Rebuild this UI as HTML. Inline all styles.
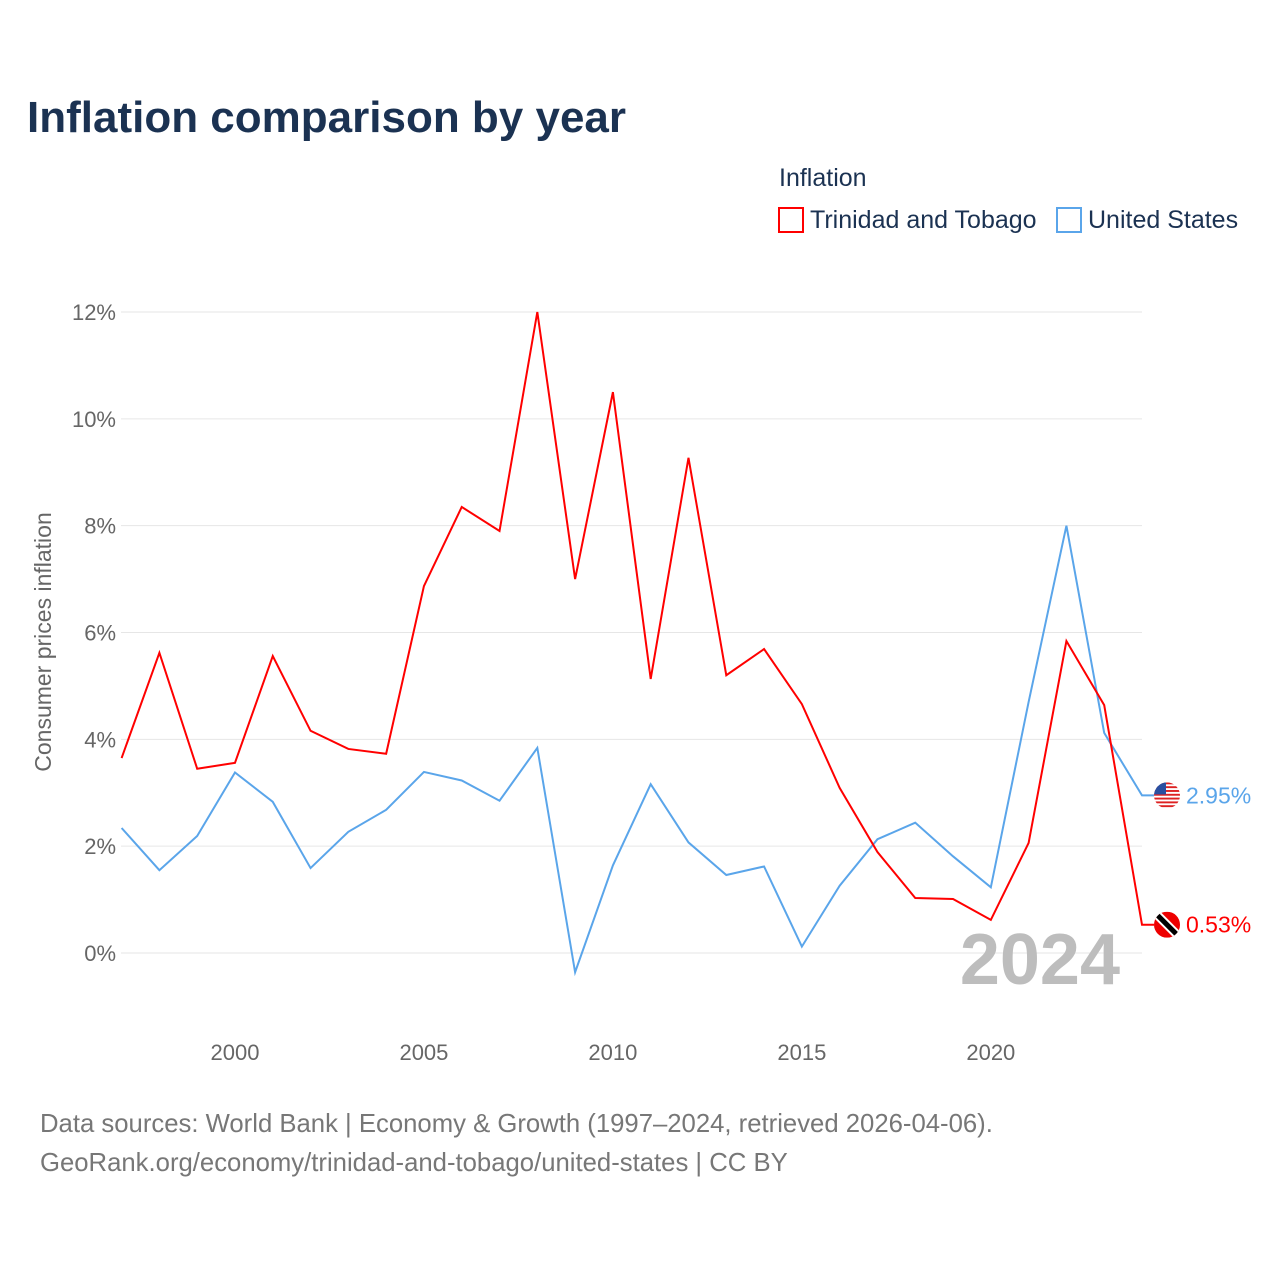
<!DOCTYPE html>
<html><head><meta charset="utf-8"><style>
body{margin:0;background:#fff;font-family:"Liberation Sans",sans-serif}
svg text{font-family:"Liberation Sans",sans-serif}
</style></head><body>
<svg id="chart" width="1280" height="1280" viewBox="0 0 1280 1280" xmlns="http://www.w3.org/2000/svg">
<defs><clipPath id="usclip"><circle cx="1167" cy="795" r="13"/></clipPath><clipPath id="ttclip"><circle cx="1167" cy="925" r="13"/></clipPath></defs>
<text x="27" y="132" font-size="44" font-weight="bold" fill="#1b3252">Inflation comparison by year</text>
<text x="779" y="186" font-size="25" fill="#1b3252">Inflation</text>
<g><rect x="779" y="208" width="24" height="24" fill="none" stroke="#f00" stroke-width="2"/><text x="810" y="228" font-size="25" fill="#1b3252">Trinidad and Tobago</text></g>
<g><rect x="1057" y="208" width="24" height="24" fill="none" stroke="#5aa5ea" stroke-width="2"/><text x="1088" y="228" font-size="25" fill="#1b3252">United States</text></g>
<text transform="translate(51,642) rotate(-90)" text-anchor="middle" font-size="23" fill="#666">Consumer prices inflation</text>
<g id="grid"></g><g id="xt"></g>
<text x="1120" y="984" text-anchor="end" font-size="72" font-weight="bold" fill="#bdbdbd">2024</text>
<g id="series"></g>
<text x="40" y="1132" font-size="25.7" fill="#777">Data sources: World Bank | Economy &amp; Growth (1997–2024, retrieved 2026-04-06).</text>
<text x="40" y="1171" font-size="25.7" fill="#777">GeoRank.org/economy/trinidad-and-tobago/united-states | CC BY</text>
</svg>
<script>
const years=[1997,1998,1999,2000,2001,2002,2003,2004,2005,2006,2007,2008,2009,2010,2011,2012,2013,2014,2015,2016,2017,2018,2019,2020,2021,2022,2023,2024];
const ttValues=[3.65,5.62,3.45,3.56,5.56,4.16,3.82,3.73,6.87,8.35,7.9,12.0,7.0,10.5,5.13,9.27,5.2,5.69,4.66,3.09,1.89,1.03,1.01,0.62,2.06,5.84,4.64,0.53];
const usValues=[2.34,1.55,2.19,3.38,2.83,1.59,2.27,2.68,3.39,3.23,2.85,3.84,-0.36,1.64,3.16,2.07,1.46,1.62,0.12,1.26,2.13,2.44,1.81,1.23,4.70,8.0,4.12,2.95];
const yTicks=[0,2,4,6,8,10,12];
const xTicks=[2000,2005,2010,2015,2020];
const NS="http://www.w3.org/2000/svg";
const X=y=>121.6+(y-1997)*(1142-121.6)/27;
const Y=v=>953-v*(953-312)/12;
function mk(t,a,p){const e=document.createElementNS(NS,t);for(const k in a)e.setAttribute(k,a[k]);p.appendChild(e);return e;}
const grid=document.getElementById('grid');
yTicks.forEach(v=>{
 const l=mk('line',{x1:121,x2:1142,y1:Y(v),y2:Y(v),stroke:'#e6e6e6'},grid);
 
 
 const t=mk('text',{x:116,y:Y(v)+8,'text-anchor':'end','font-size':22,fill:'#666'},grid);t.textContent=v+'%';
 
 
});
const xt=document.getElementById('xt');
xTicks.forEach(y=>{const t=mk('text',{x:X(y),y:1060,'text-anchor':'middle','font-size':22,fill:'#666'},xt);t.textContent=y;
 
 });
const s=document.getElementById('series');
function draw(vals,col,name,label){
 const pts=vals.map((v,i)=>X(years[i])+','+Y(v)).join(' ');
 const last=vals[vals.length-1];
 const p=mk('polyline',{points:pts+' '+(X(2024)+12)+','+Y(last),fill:'none',stroke:col,'stroke-width':2},s);
 
 
 const cy=Y(last);
 const g=mk('g',{},s);
 
 
 if(name==='us'){
  const cg=mk('g',{'clip-path':'url(#usclip)',transform:'translate(0,'+(cy-795)+')'},g);
  mk('rect',{x:1154,y:782,width:26,height:26,fill:'#fff'},cg);
  for(let i=0;i<7;i++)mk('rect',{x:1154,y:782+i*3.8,width:26,height:1.9,fill:'#d22'},cg);
  mk('rect',{x:1154,y:782,width:12,height:12,fill:'#2a4fa0'},cg);
 }else{
  const cg=mk('g',{'clip-path':'url(#ttclip)',transform:'translate(0,'+(cy-925)+')'},g);
  mk('rect',{x:1154,y:912,width:26,height:26,fill:'#e00'},cg);
  mk('line',{x1:1154,y1:912,x2:1180,y2:938,stroke:'#fff','stroke-width':9},cg);
  mk('line',{x1:1154,y1:912,x2:1180,y2:938,stroke:'#000','stroke-width':5},cg);
 }
 const t=mk('text',{x:1186,y:cy+8,'font-size':23,fill:col},s);t.textContent=label;
 
 
}
draw(usValues,'#5aa5ea','us','2.95%');
draw(ttValues,'#f00','trinidad','0.53%');
</script>
</body></html>
